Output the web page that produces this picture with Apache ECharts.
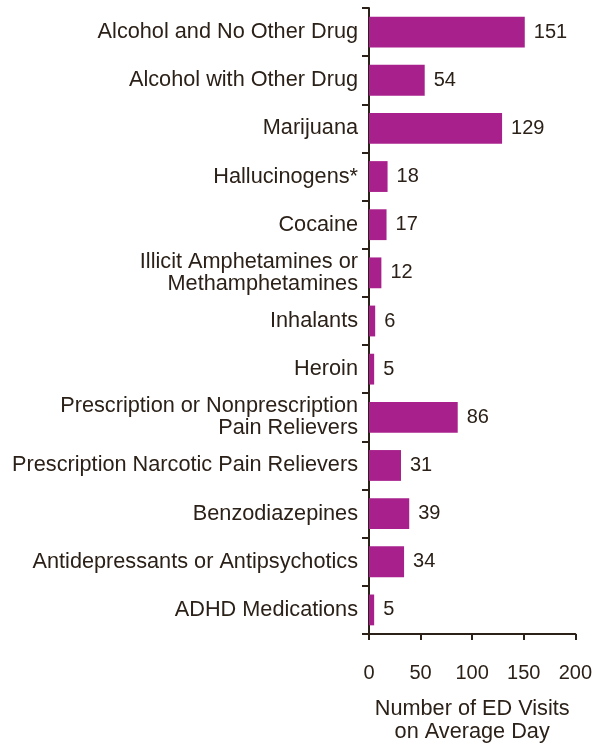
<!DOCTYPE html>
<html><head><meta charset="utf-8">
<script src="https://cdn.jsdelivr.net/npm/echarts@6/dist/echarts.min.js"></script>
<style>html,body{margin:0;padding:0;background:#fff}#c{width:595px;height:749px}</style>
</head><body><div id="c"></div>
<script>
const categories = [
  "Alcohol and No Other Drug",
  "Alcohol with Other Drug",
  "Marijuana",
  "Hallucinogens*",
  "Cocaine",
  "Illicit Amphetamines or\nMethamphetamines",
  "Inhalants",
  "Heroin",
  "Prescription or Nonprescription\nPain Relievers",
  "Prescription Narcotic Pain Relievers",
  "Benzodiazepines",
  "Antidepressants or Antipsychotics",
  "ADHD Medications"
];
const values = [151, 54, 129, 18, 17, 12, 6, 5, 86, 31, 39, 34, 5];
const xTicks = [0, 50, 100, 150, 200];
const axisTitle = "Number of ED Visits\non Average Day";

const ink = '#2b2118';
const font = '"Liberation Sans", Arial, Helvetica, sans-serif';
const chart = echarts.init(document.getElementById('c'), null, {renderer: 'canvas'});
chart.setOption({
  animation: false,
  grid: {left: 369, right: 19, top: 8, bottom: 111, containLabel: false},
  xAxis: {
    type: 'value', min: xTicks[0], max: xTicks[xTicks.length - 1], interval: 50,
    splitLine: {show: false},
    axisLine: {show: true, lineStyle: {color: ink, width: 2}},
    axisTick: {show: true, length: 6, lineStyle: {color: ink, width: 2}},
    axisLabel: {color: ink, fontSize: 20, fontFamily: font, margin: 29},
    name: axisTitle, nameLocation: 'middle', nameGap: 64,
    nameTextStyle: {color: ink, fontSize: 21.7, fontFamily: font, lineHeight: 23}
  },
  yAxis: {
    type: 'category', data: categories, inverse: true,
    axisLine: {show: true, lineStyle: {color: ink, width: 2}},
    axisTick: {show: true, length: 7, lineStyle: {color: ink, width: 2}},
    axisLabel: {color: ink, fontSize: 21.7, fontFamily: font, margin: 11, lineHeight: 22, align: 'right'}
  },
  series: [{
    type: 'bar', data: values, barCategoryGap: '36%',
    itemStyle: {color: '#a8208c'},
    label: {show: true, position: 'right', distance: 9, color: ink, fontSize: 20, fontFamily: font}
  }]
});
</script></body></html>
